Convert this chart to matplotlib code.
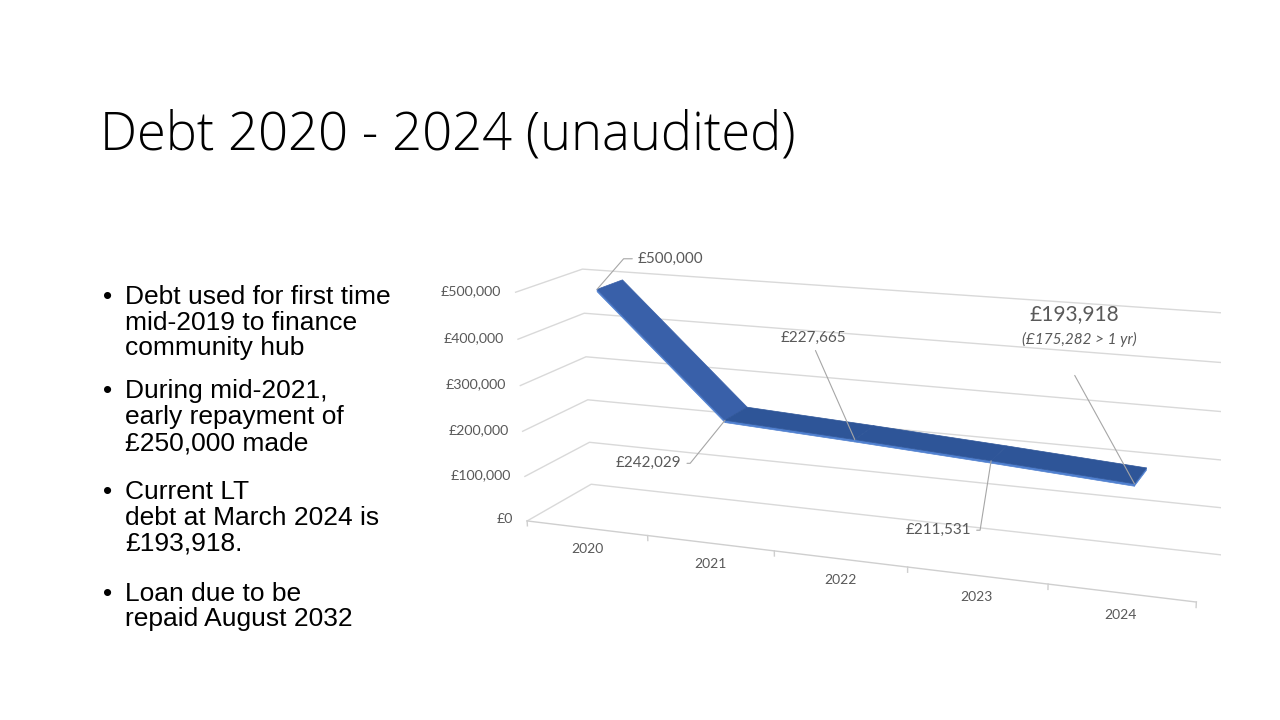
import numpy as np
import matplotlib.pyplot as plt
from mpl_toolkits.mplot3d import proj3d
from mpl_toolkits.mplot3d.art3d import Poly3DCollection

TITLE = "Debt 2020 - 2024 (unaudited)"

years = ["2020", "2021", "2022", "2023", "2024"]
debt = [500000, 242029, 227665, 211531, 193918]
point_labels = ["£500,000", "£242,029", "£227,665", "£211,531", "£193,918"]
note_2024 = "(£175,282 > 1 yr)"

value_ticks = [0, 100000, 200000, 300000, 400000, 500000]
value_labels = ["£0", "£100,000", "£200,000", "£300,000", "£400,000", "£500,000"]

bullets = [
    ["Debt used for first time", "mid-2019 to finance", "community hub"],
    ["During mid-2021,", "early repayment of", "£250,000 made"],
    ["Current LT", "debt at March 2024 is", "£193,918."],
    ["Loan due to be", "repaid August 2032"],
]

GRID = "#D9D9D9"
TEXT = "#595959"
LEADER = "#A6A6A6"

fig = plt.figure(figsize=(12.8, 7.2), dpi=100)

#----------------------------------------------------------------------
# Title and bullet text
#----------------------------------------------------------------------
fig.text(100 / 1280, 1 - 150 / 720, TITLE, fontsize=37.8, family="Open Sans",
         fontweight="light", va="baseline", ha="left")

baselines = [[304, 330, 355], [398, 424, 450], [499, 525, 550], [601, 626]]
for lines, ys in zip(bullets, baselines):
    for k, (line, yb) in enumerate(zip(lines, ys)):
        if k == 0:
            fig.text(103 / 1280, 1 - yb / 720, "•", fontsize=19,
                     family="Liberation Sans", va="baseline")
        fig.text(125 / 1280, 1 - yb / 720, line, fontsize=19,
                 family="Liberation Sans", va="baseline")

#----------------------------------------------------------------------
# 3D line chart
#----------------------------------------------------------------------
ax = fig.add_axes([0.3817, -0.1083, 0.5719, 1.0167], projection="3d")
ax.set_proj_type("persp", focal_length=0.46)
ax.view_init(elev=15, azim=-70)
ax.set_box_aspect((5.3, 1.06, 1.84))
ax.set_xlim(0, 5)
ax.set_ylim(0, 1)
ax.set_zlim(0, 500000)
ax.set_axis_off()
ax.set_facecolor("none")
ax.computed_zorder = False

# walls: left side + back wall gridlines
for v in value_ticks:
    ax.plot([0, 0, 5], [0, 1, 1], [v, v, v], color=GRID, lw=1, zorder=1)

# category axis on the floor front edge with tick marks
ax.plot([0, 5], [0, 0], [0, 0], color="#CFCFCF", lw=1, zorder=1)
for i in range(len(years) + 1):
    ax.plot([i, i], [0, 0], [0, -11000], color="#CFCFCF", lw=1, zorder=1)

for v, lab in zip(value_ticks, value_labels):
    ax.text(-0.12, 0, v, lab, ha="right", va="center", fontsize=10.2,
            family="Lato", color=TEXT)

for i, yr in enumerate(years):
    ax.text(i + 0.5, 0, -46000, yr, ha="center", va="center", fontsize=10,
            family="Lato", color=TEXT)

# ribbon
x = np.arange(len(debt)) + 0.5
y0, y1 = 0.3, 0.7
thick = 5000
top_faces, front_faces = [], []
for i in range(len(debt) - 1):
    top_faces.append([(x[i], y0, debt[i]), (x[i + 1], y0, debt[i + 1]),
                      (x[i + 1], y1, debt[i + 1]), (x[i], y1, debt[i])])
    front_faces.append([(x[i], y0, debt[i]), (x[i + 1], y0, debt[i + 1]),
                        (x[i + 1], y0, debt[i + 1] - thick), (x[i], y0, debt[i] - thick)])
front_faces.append([(x[-1], y0, debt[-1]), (x[-1], y1, debt[-1]),
                    (x[-1], y1, debt[-1] - thick), (x[-1], y0, debt[-1] - thick)])

top_colors = ["#3960A9", "#2E5598", "#2E5598", "#2E5598"]
ax.add_collection3d(Poly3DCollection(front_faces, facecolors="#5080CF",
                                     edgecolors="#5080CF", linewidths=0.5, zorder=2))
ax.add_collection3d(Poly3DCollection(top_faces, facecolors=top_colors,
                                     edgecolors=top_colors, linewidths=0.5, zorder=3))

# data labels with leader lines
px, py, _ = proj3d.proj_transform(x, np.full(len(x), y0), np.array(debt, float),
                                  ax.get_proj())

offsets = [(53, 22), (-55, -31), (-30, 73), (-38, -50)]
relpos = [(0, 0.5), (1, 0.5), (0.5, 0), (1, 0.5)]
conns = ["angle,angleA=0,angleB=49,rad=0", "angle,angleA=0,angleB=51,rad=0",
         "arc3,rad=0", "angle,angleA=0,angleB=81,rad=0"]
for i in range(4):
    ax.annotate(point_labels[i], xy=(px[i], py[i]), xytext=offsets[i],
                textcoords="offset points", ha="center", va="center",
                fontsize=11, family="Lato", color=TEXT, zorder=5,
                arrowprops=dict(arrowstyle="-", color=LEADER, lw=0.8,
                                shrinkA=2, shrinkB=0, relpos=relpos[i],
                                connectionstyle=conns[i]))

ax.annotate("", xy=(px[4], py[4]), xytext=(-43, 78), textcoords="offset points",
            zorder=5, arrowprops=dict(arrowstyle="-", color=LEADER, lw=0.8,
                                      shrinkA=0, shrinkB=0))
ax.annotate(point_labels[4], xy=(px[4], py[4]), xytext=(-43, 122),
            textcoords="offset points", ha="center", va="center",
            fontsize=15, family="Lato", color=TEXT, zorder=5)
ax.annotate(note_2024, xy=(px[4], py[4]), xytext=(-40, 104),
            textcoords="offset points", ha="center", va="center",
            fontsize=11, family="Lato", style="italic", color=TEXT, zorder=5)

plt.savefig("out.png", dpi=100)
